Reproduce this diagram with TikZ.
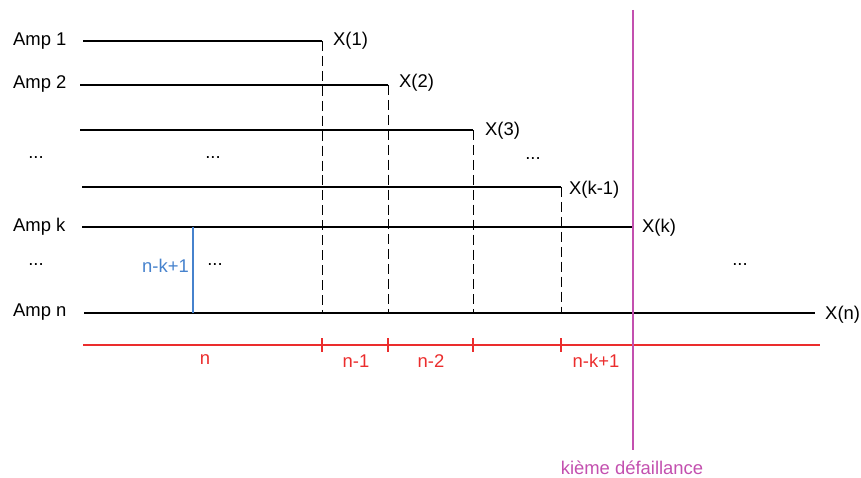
\documentclass[tikz,border=0pt]{standalone}
\usepackage{fontspec}
\setmainfont{Liberation Sans}
\usepackage{tikz}
\usetikzlibrary{positioning,calc}
\definecolor{axisred}{RGB}{235,45,45}
\definecolor{countblue}{RGB}{70,130,205}
\definecolor{failmag}{RGB}{195,80,175}

\tikzset{
  life/.style={line width=1.4pt},
  cut/.style={line width=0.8pt, dash pattern=on 10pt off 5pt},
  thin line/.style={line width=1.1pt},
  lbl/.style={font=\fontsize{18.5}{21}\selectfont, inner sep=1pt},
  xlbl/.style={lbl, anchor=west},
  redlbl/.style={lbl, text=axisred},
}

\begin{document}
\begin{tikzpicture}[x=1bp, y=-1bp]
            \useasboundingbox (0,0) rectangle (861,478);

            % Amplifier lifetimes
            \node[lbl, anchor=west] (amp1) at (12,41) {Amp 1};
            \node[lbl, anchor=west] (amp2) at (12,84) {Amp 2};
            \node[lbl, anchor=west] (ampk) at (12,227) {Amp k};
            \node[lbl, anchor=west] (ampn) at (12,312) {Amp n};
            \node[lbl] (dotsa) at (36,158) {...};
            \node[lbl] (dotsb) at (36,265) {...};

            \coordinate (s1) at (83,41);   \coordinate (e1) at (322,41);
            \coordinate (s2) at (80,85);   \coordinate (e2) at (388,85);
            \coordinate (s3) at (80,130);  \coordinate (e3) at (473,130);
            \coordinate (s4) at (82,187);  \coordinate (e4) at (561,187);
            \coordinate (sk) at (82,227);  \coordinate (ek) at (632,227);
            \coordinate (sn) at (84,313);  \coordinate (en) at (815,313);

            \draw[life] (s1) -- (e1);
            \draw[life] (s2) -- (e2);
            \draw[life] (s3) -- (e3);
            \draw[life] (s4) -- (e4);
            \draw[life] (sk) -- (ek);
            \draw[life] (sn) -- (en);

            \node[xlbl] (x1) at (332,41) {X(1)};
            \node[xlbl] (x2) at (398,83) {X(2)};
            \node[xlbl] (x3) at (484,131) {X(3)};
            \node[xlbl] (xk1) at (568,190) {X(k-1)};
            \node[xlbl] (xk) at (641,228) {X(k)};
            \node[xlbl] (xn) at (824,315) {X(n)};

            \node[lbl] (dotsc) at (213,158) {...};
            \node[lbl] (dotsd) at (533,159) {...};
            \node[lbl] (dotse) at (215,265) {...};
            \node[lbl] (dotsf) at (740,265) {...};

            % failure instants projected on Amp n
            \draw[cut] (e1) -- (e1 |- sn);
            \draw[cut] (e2) -- (e2 |- sn);
            \draw[cut] (e3) -- (e3 |- sn);
            \draw[cut] (e4) -- (e4 |- sn);
            \draw[cut, dash pattern=on 6pt off 3pt] (ek) -- (ek |- sn);

            % survivors at the kth failure
            \coordinate (bt) at (193,227);
            \coordinate (bb) at (193,313);
            \draw[countblue, thin line] (bt) -- (bb);
            \node[lbl, text=countblue, anchor=east] (nk) at (190,266) {n-k+1};

            % time axis
            \coordinate (ra) at (83,345);
            \coordinate (rb) at (820,345);
            \draw[axisred, thin line] (ra) -- (rb);
            \foreach \t in {322,388,473,561,633}
              \draw[axisred, thin line] (\t,338) -- (\t,352);
            \node[redlbl] (cn) at (205,360) {n};
            \node[redlbl] (cn1) at (356,361) {n-1};
            \node[redlbl] (cn2) at (431,361) {n-2};
            \node[redlbl] (cnk) at (596,361) {n-k+1};

            % kth failure
            \coordinate (ft) at (633,10);
            \coordinate (fb) at (633,450);
            \draw[failmag, thin line] (ft) -- (fb);
            \node[lbl, text=failmag] (fail) at (632,468) {kième défaillance};
        \end{tikzpicture}
\end{document}
